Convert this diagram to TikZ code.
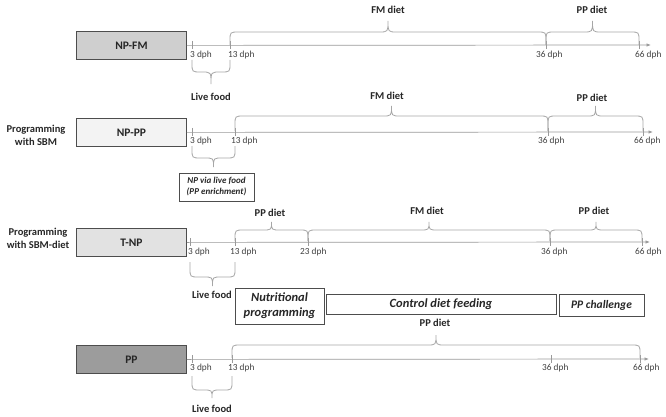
\documentclass[tikz,border=0pt]{standalone}
\usepackage{fontspec}
\setmainfont{Carlito}
\usetikzlibrary{arrows.meta}
\definecolor{boxline}{HTML}{4D4D4D}
\definecolor{axisc}{HTML}{9A9A9A}
\definecolor{bracec}{HTML}{A6A6A6}
\definecolor{tickt}{HTML}{404040}
\definecolor{labt}{HTML}{262626}
\definecolor{fillA}{HTML}{CFCFCF}
\definecolor{fillB}{HTML}{F3F3F3}
\definecolor{fillC}{HTML}{E2E2E2}
\definecolor{fillD}{HTML}{9C9C9C}
\newcommand\tlbrace[5]{%
  \pgfmathsetmacro\bxt{(#1+#2)/2}%
  \pgfmathsetmacro\bsg{ifthenelse(#5<#4,-1,1)}%
  \pgfmathsetmacro\brr{min(9,(#2-#1)/4)}%
  \draw[brc] (#1,#3) -- (#1,#4-\bsg*\brr) .. controls (#1,#4) .. (#1+\brr,#4)
    -- (\bxt-\brr,#4) .. controls (\bxt,#4) .. (\bxt,#5)
    .. controls (\bxt,#4) .. (\bxt+\brr,#4) -- (#2-\brr,#4)
    .. controls (#2,#4) .. (#2,#4-\bsg*\brr) -- (#2,#3);}
\tikzset{
  grp/.style={draw=boxline, line width=0.8pt, minimum width=110pt, minimum height=28pt,
    inner sep=0pt, anchor=north west, text=labt, font=\bfseries\fontsize{11.5}{13}\selectfont},
  axl/.style={draw=axisc, line width=0.7pt, -{Latex[length=4.5pt,width=3.5pt]}},
  tck/.style={draw=axisc, line width=0.7pt},
  brc/.style={draw=bracec, line width=0.8pt},
  dph/.style={anchor=north west, inner sep=0pt, text=tickt, font=\fontsize{9.3}{10}\selectfont},
  dlab/.style={inner sep=0pt, text=labt, font=\bfseries\fontsize{10.5}{12}\selectfont},
  side/.style={inner sep=0pt, align=center, text=labt, font=\bfseries\fontsize{10.5}{13}\selectfont},
  phase/.style={draw=boxline, line width=0.8pt, inner sep=0pt, text=labt, align=center},
}
\begin{document}
\begin{tikzpicture}[x=1pt,y=-1pt]
\useasboundingbox (0,0) rectangle (666,417);
% ---------------- Row 1: NP-FM
\node[grp, fill=fillA] (b1) at (76,31) {NP-FM};
\coordinate (e1) at (651,45);
\draw[axl] (b1.east) -- (e1);
\foreach \x in {192,230,546,639} \draw[tck] (\x,41) -- (\x,49);
\node[dph] (r1t3) at (190,51) {3 dph};
\node[dph] (r1t13) at (228,51) {13 dph};
\node[dph] (r1t36) at (536,51) {36 dph};
\node[dph] (r1t66) at (635,51) {66 dph};
\tlbrace{230}{546}{45}{32}{21}
\tlbrace{546}{639}{45}{32}{21}
\node[dlab] (r1fm) at (388,10) {FM diet};
\node[dlab] (r1pp) at (592,10) {PP diet};
\tlbrace{192}{230}{60}{72}{84}
\node[dlab] (r1lf) at (211,97) {Live food};
% ---------------- Row 2: NP-PP
\node[side] (s2) at (36,135) {Programming\\with SBM};
\node[grp, fill=fillB] (b2) at (76,118) {NP-PP};
\coordinate (e2) at (653,132);
\draw[axl] (b2.east) -- (e2);
\foreach \x in {192,235,548,643} \draw[tck] (\x,128) -- (\x,136);
\node[dph] (r2t3) at (190,137) {3 dph};
\node[dph] (r2t13) at (231,137) {13 dph};
\node[dph] (r2t36) at (538,137) {36 dph};
\node[dph] (r2t66) at (634,137) {66 dph};
\tlbrace{235}{548}{131}{116}{106}
\tlbrace{548}{643}{131}{116}{106}
\node[dlab] (r2fm) at (387,96) {FM diet};
\node[dlab] (r2pp) at (592,98) {PP diet};
\tlbrace{192}{235}{146}{158}{167}
\node[phase, minimum width=75pt, minimum height=28pt,
  font=\bfseries\itshape\fontsize{9}{11}\selectfont] (np) at (216.5,187) {NP via live food\\(PP enrichment)};
% ---------------- Row 3: T-NP
\node[side] (s3) at (38,238) {Programming\\with SBM-diet};
\node[grp, fill=fillC] (b3) at (76,228) {T-NP};
\coordinate (e3) at (650,242);
\draw[axl] (b3.east) -- (e3);
\foreach \x in {190,235,308,550,642} \draw[tck] (\x,238) -- (\x,246);
\node[dph] (r3t3) at (188,248) {3 dph};
\node[dph] (r3t13) at (230,248) {13 dph};
\node[dph] (r3t23) at (300,248) {23 dph};
\node[dph] (r3t36) at (541,248) {36 dph};
\node[dph] (r3t66) at (635,248) {66 dph};
\tlbrace{235}{308}{241}{230}{222}
\tlbrace{308}{550}{241}{230}{222}
\tlbrace{550}{642}{241}{230}{222}
\node[dlab] (r3pp1) at (270,213) {PP diet};
\node[dlab] (r3fm) at (427,211) {FM diet};
\node[dlab] (r3pp2) at (594,211) {PP diet};
\tlbrace{190}{235}{262}{277}{286}
\node[dlab] (r3lf) at (212,295) {Live food};
\node[phase, minimum width=89pt, minimum height=36pt,
  font=\bfseries\itshape\fontsize{12.5}{15}\selectfont] (nut) at (279.5,306) {Nutritional\\programming};
\node[phase, minimum width=230pt, minimum height=20pt,
  font=\bfseries\itshape\fontsize{12.5}{15}\selectfont] (ctl) at (441,304) {Control diet feeding};
\node[phase, minimum width=85pt, minimum height=22pt,
  font=\bfseries\itshape\fontsize{11.5}{14}\selectfont] (chl) at (601.5,305) {PP challenge};
% ---------------- Row 4: PP
\node[grp, fill=fillD] (b4) at (76,345) {PP};
\coordinate (e4) at (649,359);
\draw[axl] (b4.east) -- (e4);
\foreach \x in {192,232,551,640} \draw[tck] (\x,355) -- (\x,363);
\node[dph] (r4t3) at (190,364) {3 dph};
\node[dph] (r4t13) at (228,364) {13 dph};
\node[dph] (r4t36) at (542,364) {36 dph};
\node[dph] (r4t66) at (633,364) {66 dph};
\tlbrace{232}{640}{358}{345}{335}
\node[dlab] (r4pp) at (435,323) {PP diet};
\tlbrace{192}{232}{376}{390}{398}
\node[dlab] (r4lf) at (212,409) {Live food};
\end{tikzpicture}
\end{document}
